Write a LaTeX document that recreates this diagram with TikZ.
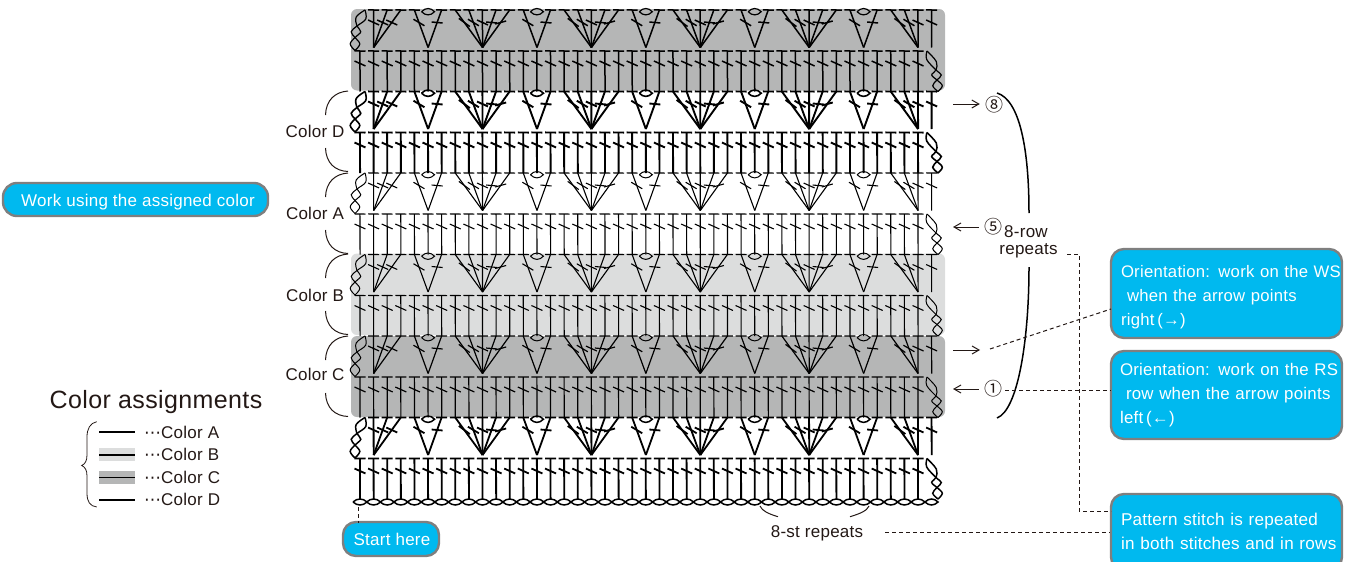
\documentclass[tikz,border=0pt]{standalone}
\usepackage{fontspec}
\setmainfont{Liberation Sans}[LetterSpace=1.5]
\newfontfamily\cjkf{Noto Sans CJK JP}
\newfontfamily\dvf{DejaVu Sans}
\usetikzlibrary{arrows.meta}
\definecolor{ink}{HTML}{231815}
\definecolor{cyanbox}{HTML}{00B9EF}
\definecolor{edgegray}{HTML}{7F7F7F}
\definecolor{bandc}{HTML}{B5B6B6}
\definecolor{bandb}{HTML}{DCDDDD}
\tikzset{
  box/.style={draw=edgegray,line width=2.4pt,fill=cyanbox,text=white,rounded corners=13pt,inner sep=0pt,font=\fontsize{17}{24}\selectfont},
  infobox/.style={box,minimum width=231pt,text width=231pt,align=left,font=\fontsize{16.7}{24}\selectfont},
  lbl/.style={text=ink,inner sep=0pt,font=\fontsize{17}{20}\selectfont},
  big/.style={text=ink,inner sep=0pt,font=\fontsize{25}{28}\selectfont},
  num/.style={text=ink,inner sep=0pt,font=\cjkf\fontsize{18}{20}\selectfont},
  dsh/.style={draw=ink,line width=1pt,dash pattern=on 4pt off 3pt},
  arr/.style={draw=ink,line width=1pt,-{Straight Barb[length=7pt,width=8pt]}},
  brk/.style={draw=ink,line width=1pt},
  thickbrk/.style={draw=black,line width=1.5pt},
  band/.style={rounded corners=6pt,draw=none},
}
\newcommand\bl[3]{\leavevmode\raisebox{#3pt}[\height][\depth]{\rlap{\hspace*{#1pt}#2}}}
\newcommand\stitch[5]{%
  \pgfmathsetmacro\slean{(#1-#3)/(#4-#2)}%
  \pgfmathsetmacro\sslope{\slean>0 ? 0.45-#5*\slean : 0.45-0.4*\slean}%
  \pgfmathsetmacro\sxx{#1-\slean*12.5}%
  \pgfmathsetmacro\syy{#2+12.5}%
  \draw (#1-5.5,#2-.06) -- (#1+5.5,#2+.06);
  \draw (#1-.06,#2) -- (#3+.06,#4);
  \draw (\sxx-5.5,\syy-5.5*\sslope) -- (\sxx+5.5,\syy+5.5*\sslope);
}
\newcommand\lensA[5]{%
  \pgfmathsetmacro\lxa{(#3)-(#1)}%
  \pgfmathsetmacro\lya{(#4)-(#2)}%
  \pgfmathsetmacro\lla{veclen(\lxa,\lya)}%
  \pgfmathsetmacro\nxa{-\lya/\lla*#5*1.33}%
  \pgfmathsetmacro\nya{\lxa/\lla*#5*1.33}%
  \draw[line width=\lenslw] (#1,#2) .. controls (#1+.3*\lxa+\nxa,#2+.3*\lya+\nya) and (#1+.7*\lxa+\nxa,#2+.7*\lya+\nya) .. (#3,#4)
        .. controls (#1+.7*\lxa-\nxa,#2+.7*\lya-\nya) and (#1+.3*\lxa-\nxa,#2+.3*\lya-\nya) .. (#1,#2);
}
% twisted turning chain: two strands crossing at the two inner points
\newcommand\twist[9]{% x0 y0 x1 y1 x2 y2 x3 y3 bulge
  \pgfmathsetmacro\tmxa{(#1+#3)/2}\pgfmathsetmacro\tmya{(#2+#4)/2}%
  \pgfmathsetmacro\tmxb{(#3+#5)/2}\pgfmathsetmacro\tmyb{(#4+#6)/2}%
  \pgfmathsetmacro\tmxc{(#5+#7)/2}\pgfmathsetmacro\tmyc{(#6+#8)/2}%
  \draw[line width=\lenslw] plot[smooth,tension=.6] coordinates {(#1,#2) (\tmxa-#9,\tmya-1) (#3,#4) (\tmxb+#9,\tmyb) (#5,#6) (\tmxc-#9,\tmyc) (#7,#8)};
  \draw[line width=\lenslw] plot[smooth,tension=.6] coordinates {(#1,#2) (\tmxa+#9,\tmya+1) (#3,#4) (\tmxb-#9,\tmyb) (#5,#6) (\tmxc+#9,\tmyc) (#7,#8)};
}
\newcommand\fanrow[1]{%
  \pgfmathsetmacro\tp{#1}%
  \pgfmathsetmacro\fb{#1+37.5}%
  \foreach \bc in {9,17,25,33}{\foreach \dd in {-2,...,2}{%
    \pgfmathsetmacro\xb{360+\bc*13.61}\pgfmathsetmacro\xt{360+(\bc+\dd)*13.61}%
    \stitch{\xt}{\tp}{\xb}{\fb}{1}}}
  \foreach \bc in {5,13,21,29,37}{%
    \foreach \dd in {-1,1}{%
      \pgfmathsetmacro\xb{360+\bc*13.61}\pgfmathsetmacro\xt{360+(\bc+\dd)*13.61}%
      \stitch{\xt}{\tp}{\xb}{\fb}{1}}
    \pgfmathsetmacro\xb{360+\bc*13.61}%
    \pgfmathsetmacro\ya{\tp+1.7}%
    \lensA{\xb-6.5}{\ya}{\xb+6.5}{\ya}{3.2}}
  \foreach \bc/\tc in {1/1,1/2,1/3,41/39,41/40,41/41,42/42}{%
    \pgfmathsetmacro\xb{360+\bc*13.61}\pgfmathsetmacro\xt{360+\tc*13.61}%
    \stitch{\xt}{\tp}{\xb}{\fb}{0}}
  \pgfmathsetmacro\ya{\tp+16}\pgfmathsetmacro\yb{\tp+27.5}\pgfmathsetmacro\yc{\tp+40.5}%
  \twist{365}{\tp}{357}{\ya}{355}{\yb}{355}{\yc}{4.8}
}
\newcommand\dcrow[2]{%
  \pgfmathsetmacro\dtop{#1+41}%
  \foreach \cc in {0,...,41}{%
    \pgfmathsetmacro\xt{360+\cc*13.61}%
    \stitch{\xt}{\dtop}{\xt}{#2}{1}}
  \pgfmathsetmacro\ya{\dtop+19}\pgfmathsetmacro\yb{\dtop+29}\pgfmathsetmacro\yc{\dtop+40.5}%
  \twist{927}{\dtop}{936}{\ya}{937}{\yb}{938}{\yc}{4.8}
}
\newcommand\colorarc[1]{%
  \pgfmathsetmacro\ya{#1+24}\pgfmathsetmacro\yb{#1+57}\pgfmathsetmacro\yc{#1+80.5}%
  \draw[brk] (348,#1) .. controls (335,#1+1) and (326,#1+9) .. (325.5,\ya);
  \draw[brk] (325.5,\yb) .. controls (326,#1+72) and (335,#1+80) .. (348,\yc);
}
\begin{document}
\begin{tikzpicture}[x=1pt,y=-1pt]
\useasboundingbox (0,0) rectangle (1349,562);
\clip (0,0) rectangle (1349,562);
% colour bands
\fill[band,bandc] (351,9) rectangle (945,90.5);
\fill[band,bandb] (351,253.5) rectangle (945,335);
\fill[band,bandc] (351,336) rectangle (945,417);
% stitch rows
\def\lenslw{1.2pt}
\begin{scope}[draw=black,line width=1.5pt]\fanrow{10}\dcrow{10}{91.5}\end{scope}
\def\lenslw{1.6pt}
\begin{scope}[draw=black,line width=1.9pt]\fanrow{91.5}\dcrow{91.5}{173}\end{scope}
\def\lenslw{1pt}
\begin{scope}[draw=black,line width=1.1pt]\fanrow{173}\dcrow{173}{254.5}\end{scope}
\begin{scope}[draw=black,line width=1.1pt]\fanrow{254.5}\dcrow{254.5}{336}\end{scope}
\begin{scope}[draw=black,line width=1.2pt]\fanrow{336}\dcrow{336}{417.5}\end{scope}
\def\lenslw{1.5pt}
\begin{scope}[draw=black,line width=1.8pt]
  \fanrow{417.5}\dcrow{417.5}{499.5}
  \foreach \cc in {0,...,41}{\pgfmathsetmacro\xt{360+\cc*13.61}\lensA{\xt-7}{502}{\xt+7}{502}{3}}
  \lensA{925}{502}{938}{502}{3}
\end{scope}
% colour labels
\node[lbl] (cd) at (315,131) {Color D};
\node[lbl] (ca) at (315,213) {Color A};
\node[lbl] (cb) at (315,295) {Color B};
\node[lbl] (cc) at (315,374) {Color C};
\colorarc{91}\colorarc{173}\colorarc{254}\colorarc{336}
% row numbers and arrows
\node[num] (n8) at (994,105) {⑧};
\node[num] (n5) at (993,227) {⑤};
\node[num] (n1) at (993,389) {①};
\coordinate (a8) at (953,104);
\coordinate (a5) at (953,227);
\coordinate (a1) at (953,389);
\coordinate (ar0) at (953,350);
\coordinate (ar1) at (980,350);
\draw[arr,shorten >=5pt] (a8) -- (a8 -| n8.west);
\draw[arr] ([xshift=-5pt]n5.west) -- (a5);
\draw[arr] ([xshift=-5pt]n1.west) -- (a1);
\draw[arr] (ar0) -- (ar1);
% big bracket
\node[lbl] (rep8) at (1026,232) {8-row};
\node[lbl] (repr) at (1028.5,251) {repeats};
\coordinate (ku) at (997,93);
\coordinate (kua) at (1029,213);
\coordinate (kla) at (1029,267);
\coordinate (kl) at (997,418);
\draw[thickbrk] (ku) .. controls (1020,100) and (1029,150) .. (kua);
\draw[thickbrk] (kla) .. controls (1029,340) and (1018,410) .. (kl);
% callouts
\node[infobox,minimum height=89pt] (b1) at (1226.5,293.5) {\bl{10}{Orientation: work on the WS}{-4}\\\bl{16}{when the arrow points}{-4}\\\bl{10}{right\,(→)}{-4}};
\node[infobox,minimum height=88pt,font=\fontsize{16.85}{24}\selectfont] (b2) at (1226.5,395) {\bl{9}{Orientation: work on the RS}{0}\\\bl{15}{row when the arrow points}{0}\\\bl{9}{left\,(←)}{0}};
\node[infobox,minimum height=76pt,font=\fontsize{17.1}{24}\selectfont] (b3) at (1226.5,532) {\bl{10}{Pattern stitch is repeated}{1}\\\bl{10}{in both stitches and in rows}{1}};
\node[box,minimum width=96pt,minimum height=34pt] (st) at (391,539) {\hspace*{2pt}Start here};
\node[box,minimum width=265pt,minimum height=33pt,rounded corners=14pt] (wk) at (135.5,199.5) {\raisebox{-2.5pt}[\height][\depth]{\hspace*{5pt}Work using the assigned color}};
% dashed leaders
\coordinate (d1) at (990,349);
\coordinate (e1) at (1111,309);
\coordinate (d2) at (1005,390);
\coordinate (e2) at (1111,390);
\coordinate (r1) at (1067,254);
\coordinate (r2) at (1079,254);
\coordinate (r3) at (1079,511);
\coordinate (e3) at (1111,511);
\coordinate (s0) at (358,507);
\coordinate (s1) at (358,523);
\coordinate (r8) at (885,532);
\draw[dsh] (d1) -- (e1);
\draw[dsh] (d2) -- (e2);
\draw[dsh] (r1) -- (r2) -- (r3) -- (e3);
\draw[dsh] (s0) -- (s1);
\draw[dsh] (r8) -- (b3.west);
% 8-st repeats
\node[lbl] (st8) at (817,533) {8-st repeats};
\coordinate (q1) at (760,506);
\coordinate (q2) at (778,516.7);
\coordinate (q3) at (869,506);
\coordinate (q4) at (850,516.7);
\draw[brk] (q1) .. controls (762,511) and (769,514) .. (q2);
\draw[brk] (q3) .. controls (867,511) and (859,514) .. (q4);
% legend
\node[big] (ttl) at (156,402) {Color assignments};
\coordinate (g1) at (96.7,421.7);
\coordinate (g2) at (96.7,507);
\coordinate (gt) at (81.7,465.5);
\draw[draw=ink,line width=.8pt] (g1) .. controls (90,423) and (87,429) .. (87,437) -- (87,455) .. controls (87,461) and (85,464) .. (gt) .. controls (85,467) and (87,470) .. (87,476) -- (87,493) .. controls (87,502) and (90,506) .. (g2);
\fill[bandb] (99,448) rectangle (135,461);
\fill[bandc] (99,470.7) rectangle (135,484);
\draw[black,line width=1.2pt] (99,432) -- (135,432);
\draw[black,line width=1.4pt] (99,455) -- (135,455);
\draw[black,line width=1.4pt] (99,477.5) -- (135,477.5);
\draw[black,line width=1.8pt] (99,500) -- (135,500);
\node[lbl,anchor=west] (la) at (144,432) {{\dvf ⋯}Color A};
\node[lbl,anchor=west] (lb) at (144,454.5) {{\dvf ⋯}Color B};
\node[lbl,anchor=west] (lc) at (144,477) {{\dvf ⋯}Color C};
\node[lbl,anchor=west] (ld) at (144,499.5) {{\dvf ⋯}Color D};
\end{tikzpicture}
\end{document}
